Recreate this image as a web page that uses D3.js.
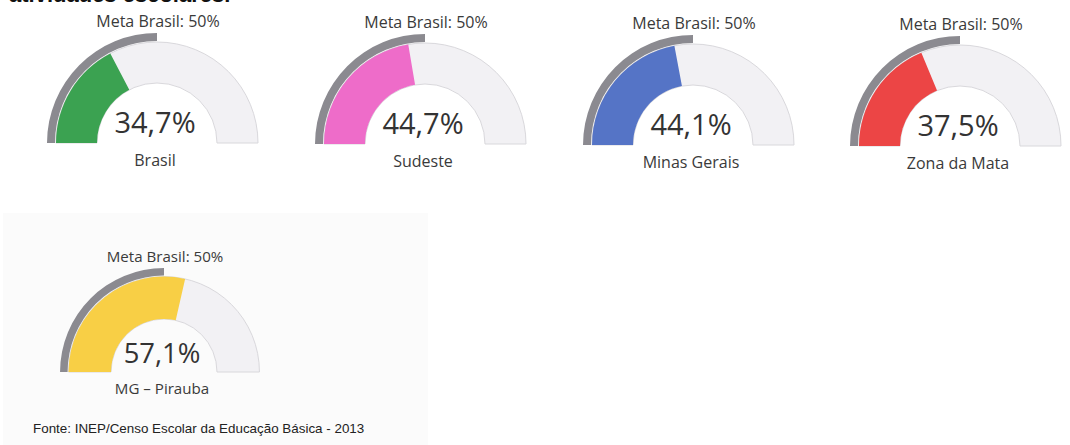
<!DOCTYPE html>
<html>
<head>
<meta charset="utf-8">
<script src="https://cdn.jsdelivr.net/npm/d3@7"></script>
<style>
  body { margin: 0; background: #fff; }
  svg { display: block; }
</style>
</head>
<body>
<svg id="chart" width="1070" height="445"></svg>
<script>
// data
const regions = ["Brasil", "Sudeste", "Minas Gerais", "Zona da Mata", "MG \u2013 Pirauba"];
const values = [34.7, 44.7, 44.1, 37.5, 57.1];
const metaValue = 50;
const metaLabel = "Meta Brasil: 50%";
const source = "Fonte: INEP/Censo Escolar da Educação Básica - 2013";
const heading = "atividades escolares.";

const palette = ["#3ba251", "#ee6cc9", "#5574c6", "#ec4545", "#f8cf45"];

// layout of each gauge: center and scale
const layout = [
  { cx: 157, cy: 143, s: 1 },
  { cx: 425, cy: 144, s: 1 },
  { cx: 693, cy: 145, s: 1 },
  { cx: 960, cy: 146, s: 1 },
  { cx: 164, cy: 372, s: 0.945 }
];

const svg = d3.select("#chart");
const fmt = d3.formatLocale({ decimal: ",", thousands: ".", grouping: [3], currency: ["", ""] }).format(".1f");

// angle scale: 0% on the left, 100% on the right
const angle = d3.scaleLinear().domain([0, 100]).range([-Math.PI / 2, Math.PI / 2]);

// faint scanned panel behind the last gauge
svg.append("rect")
  .attr("x", 3).attr("y", 213)
  .attr("width", 425).attr("height", 232)
  .attr("fill", "#fbfbfb");

// cut-off heading at the very top (only its foot shows)
svg.append("text")
  .attr("x", 9).attr("y", 2)
  .style("font-family", "'Liberation Sans', Arial, sans-serif")
  .style("font-weight", "bold")
  .style("font-size", "22px")
  .attr("fill", "#111")
  .text(heading);

regions.forEach((name, i) => {
  const L = layout[i];
  const s = L.s;
  const rIn = (i === 4 ? 53 : 60);
  const rOut = 101 * s;
  const rMetaIn = 102 * s, rMetaOut = 110 * s;

  const g = svg.append("g").attr("transform", `translate(${L.cx},${L.cy})`);

  const track = d3.arc().innerRadius(rIn).outerRadius(rOut)
    .startAngle(angle(0)).endAngle(angle(100));
  g.append("path").attr("d", track())
    .attr("fill", "#f2f1f4").attr("stroke", "#d9d8dc").attr("stroke-width", 1);

  const bar = d3.arc().innerRadius(rIn).outerRadius(rOut)
    .startAngle(angle(0)).endAngle(angle(values[i]));
  g.append("path").attr("d", bar()).attr("fill", palette[i]);

  const meta = d3.arc().innerRadius(rMetaIn).outerRadius(rMetaOut)
    .startAngle(angle(0)).endAngle(angle(metaValue));
  g.append("path").attr("d", meta()).attr("fill", "#8b8a90");

  g.append("text")
    .attr("x", 1).attr("y", -116 * s)
    .attr("text-anchor", "middle")
    .style("font-family", "'Open Sans', sans-serif")
    .style("font-size", (16 * s) + "px")
    .attr("fill", "#3a3a3a")
    .text(metaLabel);

  g.append("text")
    .attr("x", -2).attr("y", -10 * s)
    .attr("text-anchor", "middle")
    .style("font-family", "'Open Sans', sans-serif")
    .style("font-size", (29 * s) + "px")
    .attr("fill", "#333")
    .text(fmt(values[i]) + "%");

  g.append("text")
    .attr("x", -2).attr("y", 23 * s)
    .attr("text-anchor", "middle")
    .style("font-family", "'Open Sans', sans-serif")
    .style("font-size", (16 * s) + "px")
    .attr("fill", "#3a3a3a")
    .text(name);
});

svg.append("text")
  .attr("x", 33).attr("y", 433)
  .style("font-family", "'Liberation Sans', Arial, sans-serif")
  .style("font-size", "13.4px")
  .attr("fill", "#222")
  .text(source);
</script>
</body>
</html>
